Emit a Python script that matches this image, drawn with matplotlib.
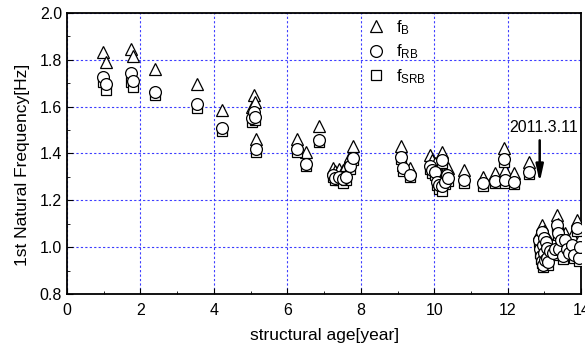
import matplotlib
matplotlib.use("Agg")
import matplotlib.pyplot as plt
from matplotlib.ticker import MultipleLocator, FormatStrFormatter

plt.rcParams['font.family'] = ['Liberation Sans', 'DejaVu Sans']
plt.rcParams['mathtext.fontset'] = 'custom'
plt.rcParams['mathtext.rm'] = 'Liberation Sans'

# structural age [year] and the three identified frequencies [Hz]
age = [0.99, 1.06, 1.73, 1.79, 2.39, 3.53, 4.21, 5.03, 5.08, 5.12, 5.15,
       6.26, 6.51, 6.85, 7.25, 7.30, 7.40, 7.52, 7.60, 7.70, 7.78,
       9.09, 9.16, 9.34, 9.89, 9.95, 10.02, 10.08, 10.14, 10.21, 10.20,
       10.28, 10.34, 10.38, 10.81, 11.32, 11.66, 11.91, 11.93, 12.16, 12.57,
       12.86, 12.88, 12.90, 12.92, 12.93, 12.95, 12.96, 12.98, 13.00, 13.02,
       13.04, 13.06, 13.08, 13.10, 13.16, 13.22, 13.28, 13.34, 13.36, 13.40,
       13.45, 13.50, 13.55, 13.60, 13.66, 13.75, 13.80, 13.88, 13.93, 13.96]
f_b = [1.835, 1.790, 1.845, 1.816, 1.760, 1.697, 1.586, 1.600, 1.650, 1.620, 1.460,
       1.462, 1.408, 1.517, 1.340, 1.325, 1.335, 1.330, 1.350, 1.390, 1.430,
       1.430, 1.350, 1.337, 1.394, 1.370, 1.360, 1.330, 1.310, 1.408, 1.310,
       1.330, 1.330, 1.340, 1.330, 1.300, 1.315, 1.422, 1.330, 1.315, 1.365,
       1.060, 1.020, 1.000, 1.095, 0.980, 1.040, 0.960, 1.070, 1.010, 0.975,
       1.050, 0.990, 1.030, 0.970, 1.020, 1.000, 1.030, 1.137, 1.100, 1.020,
       1.070, 1.000, 1.060, 1.030, 1.010, 1.050, 1.000, 1.116, 0.990, 1.040]
f_rb = [1.725, 1.697, 1.742, 1.710, 1.664, 1.611, 1.507, 1.550, 1.578, 1.557, 1.419,
        1.418, 1.355, 1.458, 1.310, 1.295, 1.300, 1.290, 1.300, 1.345, 1.380,
        1.387, 1.337, 1.308, 1.345, 1.330, 1.320, 1.280, 1.265, 1.372, 1.262,
        1.280, 1.308, 1.295, 1.287, 1.273, 1.284, 1.375, 1.287, 1.280, 1.322,
        1.030, 0.990, 0.960, 1.065, 0.940, 1.010, 0.925, 1.040, 0.975, 0.945,
        1.020, 0.955, 0.995, 0.935, 0.985, 0.975, 0.990, 1.095, 1.060, 0.990,
        1.030, 0.960, 1.030, 0.990, 0.974, 1.010, 0.965, 1.080, 0.952, 1.000]
f_srb = [1.705, 1.672, 1.705, 1.685, 1.648, 1.595, 1.495, 1.535, 1.560, 1.545, 1.408,
         1.408, 1.345, 1.448, 1.300, 1.285, 1.285, 1.275, 1.285, 1.335, 1.370,
         1.377, 1.325, 1.298, 1.335, 1.318, 1.308, 1.265, 1.250, 1.360, 1.240,
         1.268, 1.295, 1.283, 1.275, 1.262, 1.272, 1.365, 1.275, 1.270, 1.312,
         1.020, 0.975, 0.950, 1.055, 0.930, 0.995, 0.915, 1.030, 0.965, 0.935,
         1.005, 0.945, 0.985, 0.925, 0.975, 0.965, 0.980, 1.085, 1.050, 0.980,
         1.020, 0.950, 1.020, 0.980, 0.965, 1.000, 0.955, 1.070, 0.940, 0.990]

quake_age = 12.87  # 2011.3.11

fig = plt.figure(figsize=(5.85, 3.52), dpi=100)
ax = fig.add_axes([0.1145, 0.165, 0.879, 0.798])

mk = dict(linestyle='none', markerfacecolor='white', markeredgecolor='black',
          markeredgewidth=0.9, markersize=8.5)
ax.plot(age, f_b, marker='^', label=r'$\mathregular{f_{B}}$', zorder=3, **mk)
ax.plot(age, f_srb, marker='s', label=r'$\mathregular{f_{SRB}}$', zorder=4,
        **dict(mk, markersize=7.5))
ax.plot(age, f_rb, marker='o', label=r'$\mathregular{f_{RB}}$', zorder=5, **mk)

ax.annotate('', xy=(quake_age, 1.265), xytext=(quake_age, 1.468),
            arrowprops=dict(arrowstyle='-|>,head_width=0.22,head_length=1.0',
                            color='black', lw=1.8))
ax.text(12.98, 1.513, '2011.3.11', ha='center', va='center', fontsize=11.5)

ax.set_xlim(0, 14)
ax.set_ylim(0.8, 2.0)
ax.xaxis.set_major_locator(MultipleLocator(2))
ax.xaxis.set_minor_locator(MultipleLocator(1))
ax.yaxis.set_major_locator(MultipleLocator(0.2))
ax.yaxis.set_minor_locator(MultipleLocator(0.1))
ax.yaxis.set_major_formatter(FormatStrFormatter('%.1f'))
ax.grid(True, which='major', color='#3c3cff', linestyle=(0, (2, 2)), linewidth=0.8)
ax.tick_params(which='both', direction='in', labelsize=11.5)
ax.tick_params(which='major', length=4)
ax.tick_params(which='minor', length=2.5)
ax.tick_params(axis='x', pad=6.5)
for s in ax.spines.values():
    s.set_linewidth(1.3)

ax.set_xlabel('structural age[year]', fontsize=12.5, labelpad=7)
ax.set_ylabel('1st Natural Frequency[Hz]', fontsize=12.5)
ax.yaxis.set_label_coords(-0.072, 0.46)

h, l = ax.get_legend_handles_labels()
order = [0, 2, 1]
ax.legend([h[i] for i in order], [l[i] for i in order], frameon=False,
          loc='upper left', bbox_to_anchor=(0.552, 1.035), fontsize=12,
          handletextpad=0.6, labelspacing=0.35, handlelength=1.2)

fig.savefig('out.png', dpi=100)
